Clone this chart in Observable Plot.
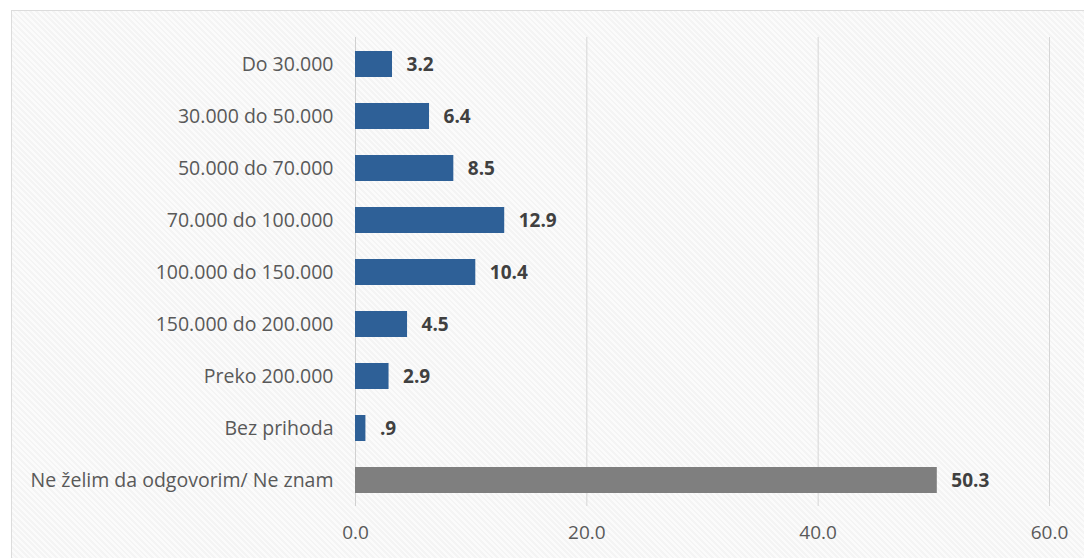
<!DOCTYPE html>
<html>
<head>
<meta charset="utf-8">
<script src="https://cdn.jsdelivr.net/npm/d3@7"></script>
<script src="https://cdn.jsdelivr.net/npm/@observablehq/plot@0.6"></script>
<style>
  html, body { margin: 0; padding: 0; background: #ffffff; width: 1084px; height: 558px; overflow: hidden; }
  #frame {
    position: absolute; left: 11px; top: 10px; width: 1090px; height: 560px;
    border: 1px solid #dcdcdc;
    background: repeating-linear-gradient(45deg, #f4f4f4 0px, #f4f4f4 2px, #fbfbfb 2px, #fbfbfb 4px);
  }
  #chart { position: absolute; left: 0; top: 0; }
</style>
</head>
<body>
<div id="frame"></div>
<div id="chart"></div>
<script>
const categories = [
  "Do 30.000",
  "30.000 do 50.000",
  "50.000 do 70.000",
  "70.000 do 100.000",
  "100.000 do 150.000",
  "150.000 do 200.000",
  "Preko 200.000",
  "Bez prihoda",
  "Ne želim da odgovorim/ Ne znam"
];
const values = [3.2, 6.4, 8.5, 12.9, 10.4, 4.5, 2.9, 0.9, 50.3];
const xTicks = [0, 20, 40, 60];
const otherCategory = "Ne želim da odgovorim/ Ne znam";

const data = categories.map((c, i) => ({category: c, value: values[i]}));
const fmtValue = v => d3.format(".1f")(v).replace(/^0\./, ".");

const chart = Plot.plot({
  width: 1084,
  height: 558,
  marginTop: 37,
  marginBottom: 52,
  marginLeft: 355,
  marginRight: 35,
  style: {background: "transparent", fontFamily: "'Open Sans', sans-serif"},
  x: {domain: [0, 60], ticks: xTicks},
  y: {domain: categories, paddingInner: 0.5, paddingOuter: 0.25},
  marks: [
    Plot.ruleX(xTicks.filter(t => t > 0), {stroke: "#d6d6d6", strokeWidth: 1}),
    Plot.ruleX([0], {stroke: "#d0d0d0", strokeWidth: 1}),
    Plot.barX(data, {
      y: "category", x: "value",
      fill: d => d.category === otherCategory ? "#7f7f7f" : "#2e6097"
    }),
    Plot.text(data, {
      y: "category", x: "value", text: d => fmtValue(d.value),
      textAnchor: "start", dx: 14, fontSize: 19, fontWeight: "bold", fill: "#404040"
    }),
    Plot.axisX({
      ticks: xTicks, tickFormat: d3.format(".1f"), tickSize: 0, tickPadding: 19,
      fontSize: 19, color: "#595959", label: null
    }),
    Plot.axisY({
      tickSize: 0, tickPadding: 22, fontSize: 19.5, color: "#595959", label: null
    })
  ]
});
document.getElementById("chart").appendChild(chart);
</script>
</body>
</html>
